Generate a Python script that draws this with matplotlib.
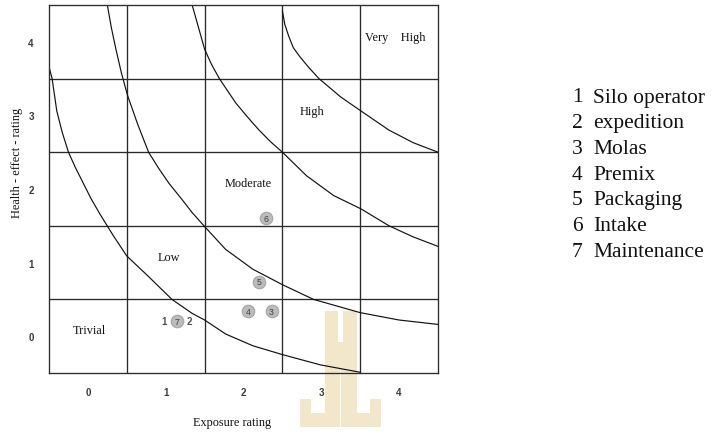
import matplotlib
matplotlib.use("Agg")
import matplotlib.pyplot as plt
from matplotlib.patches import Rectangle

# ---------------------------------------------------------------
# data read off the scanned risk matrix
# ---------------------------------------------------------------
ratings = [0, 1, 2, 3, 4]

# risk band boundaries (exposure, health effect)
curve1_x = [-0.5, -0.46, -0.40, -0.33, -0.25, -0.16, -0.06, 0.04, 0.16, 0.33, 0.5,
            0.78, 1.08, 1.34, 1.5, 1.77, 2.12, 2.5, 2.99, 3.5]
curve1_y = [3.66, 3.5, 3.06, 2.77, 2.5, 2.29, 2.08, 1.87, 1.65, 1.36, 1.09,
            0.81, 0.5, 0.31, 0.22, 0.03, -0.13, -0.25, -0.39, -0.49]
curve2_x = [0.25, 0.30, 0.36, 0.43, 0.51, 0.64, 0.78, 0.91, 1.04, 1.20, 1.34, 1.5,
            1.77, 2.12, 2.5, 2.9, 3.5, 4.0, 4.5]
curve2_y = [4.5, 4.2, 3.90, 3.58, 3.27, 2.88, 2.5, 2.28, 2.08, 1.87, 1.68, 1.49,
            1.18, 0.91, 0.70, 0.5, 0.32, 0.22, 0.16]
curve3_x = [1.34, 1.42, 1.5, 1.59, 1.69, 1.9, 2.05, 2.2, 2.35, 2.5, 2.81, 3.16,
            3.51, 3.87, 4.18, 4.5]
curve3_y = [4.5, 4.2, 3.90, 3.69, 3.5, 3.17, 2.98, 2.8, 2.64, 2.5, 2.18, 1.91,
            1.73, 1.5, 1.35, 1.22]
curve4_x = [2.5, 2.53, 2.58, 2.64, 2.73, 2.84, 2.97, 3.25, 3.51, 3.87, 4.18, 4.5]
curve4_y = [4.42, 4.24, 4.08, 3.92, 3.79, 3.65, 3.5, 3.25, 3.06, 2.80, 2.63, 2.5]

zones = ["Trivial", "Low", "Moderate", "High", "Very    High"]
zone_x = [0.02, 1.04, 2.06, 2.88, 3.95]
zone_y = [0.08, 1.08, 2.08, 3.06, 4.06]

jobs = ["Silo operator", "expedition", "Molas", "Premix", "Packaging", "Intake", "Maintenance"]
job_exposure = [1.14, 1.14, 2.36, 2.06, 2.20, 2.29, 1.14]
job_health = [0.20, 0.20, 0.34, 0.34, 0.74, 1.60, 0.20]

SERIF = "Liberation Serif"
SANS = "Liberation Sans"
LINE = "#2a2a2a"

W, H = 712, 435
fig = plt.figure(figsize=(W / 100, H / 100), dpi=100)
fig.patch.set_facecolor("white")

# faint library watermark behind the chart (pixel boxes, top-left origin)
wm_boxes = [(325, 312, 338, 428), (343, 312, 357, 428), (338, 343, 343, 372),
            (338, 372, 340, 428), (341, 372, 343, 428),
            (300, 414, 338, 428), (300, 400, 311, 414),
            (343, 414, 381, 428), (370, 400, 381, 414)]
for x0, y0, x1, y1 in wm_boxes:
    fig.add_artist(Rectangle((x0 / W, 1 - y1 / H), (x1 - x0) / W, (y1 - y0) / H,
                             transform=fig.transFigure, facecolor="#f3e7cb",
                             edgecolor="none", zorder=-5))

ax = fig.add_axes([49 / W, 61 / H, 389 / W, 368 / H])
ax.set_zorder(2)
ax.set_facecolor("none")
ax.set_xlim(-0.5, 4.5)
ax.set_ylim(-0.5, 4.5)

# cell grid
for v in [0.5, 1.5, 2.5, 3.5]:
    ax.axvline(v, color=LINE, lw=0.95)
    ax.axhline(v, color=LINE, lw=0.95)
for s in ax.spines.values():
    s.set_color(LINE)
    s.set_linewidth(0.95)

# risk contours
for cx, cy in [(curve1_x, curve1_y), (curve2_x, curve2_y),
               (curve3_x, curve3_y), (curve4_x, curve4_y)]:
    ax.plot(cx, cy, color="#111111", lw=0.85, solid_joinstyle="round",
            solid_capstyle="round")

# zone names
for name, zx, zy in zip(zones, zone_x, zone_y):
    ax.text(zx, zy, name, ha="center", va="center", fontsize=8.8,
            family=SERIF, color="#111111")

# jobs: 1 and 2 share the spot of 7, written beside it
for i, (ex, hy) in enumerate(zip(job_exposure, job_health)):
    num = i + 1
    if num in (1, 2):
        off = -9 if num == 1 else 9
        ax.annotate(str(num), (ex, hy), xytext=(off, 0), textcoords="offset points",
                    ha="center", va="center", fontsize=7, family=SANS,
                    fontweight="bold", color="#505050")
        continue
    ax.plot(ex, hy, "o", ms=9, mfc="#bcbcbc", mec="#a4a4a4", mew=0.8, zorder=4)
    ax.text(ex, hy, str(num), ha="center", va="center", fontsize=6.3,
            family=SANS, color="#404040", zorder=5)

ax.set_xticks(ratings)
ax.set_yticks(ratings)
ax.set_xticklabels([str(r) for r in ratings], family=SANS, fontweight="bold")
ax.set_yticklabels([str(r) for r in ratings], family=SANS, fontweight="bold")
ax.tick_params(length=0, labelsize=7, labelcolor="#3a3a3a")
ax.tick_params(axis="x", pad=10)
ax.tick_params(axis="y", pad=11)

fig.text(232 / W, 1 - 423 / H, "Exposure rating", ha="center", va="center",
         fontsize=8.8, family=SERIF, color="#111111")
fig.text(17 / W, 1 - 163 / H, "Health - effect - rating", ha="center", va="center",
         rotation=90, fontsize=8.8, family=SERIF, color="#111111")

# job key on the right
for i, name in enumerate(jobs):
    yy = 1 - (98 + 25.7 * i) / H
    fig.text(572 / W, yy, str(i + 1), ha="left", va="center", fontsize=15.5,
             family=SERIF, color="#111111")
    fig.text(593 / W, yy, name, ha="left", va="center", fontsize=15.5,
             family=SERIF, color="#111111")

fig.savefig("out.png", dpi=100)
